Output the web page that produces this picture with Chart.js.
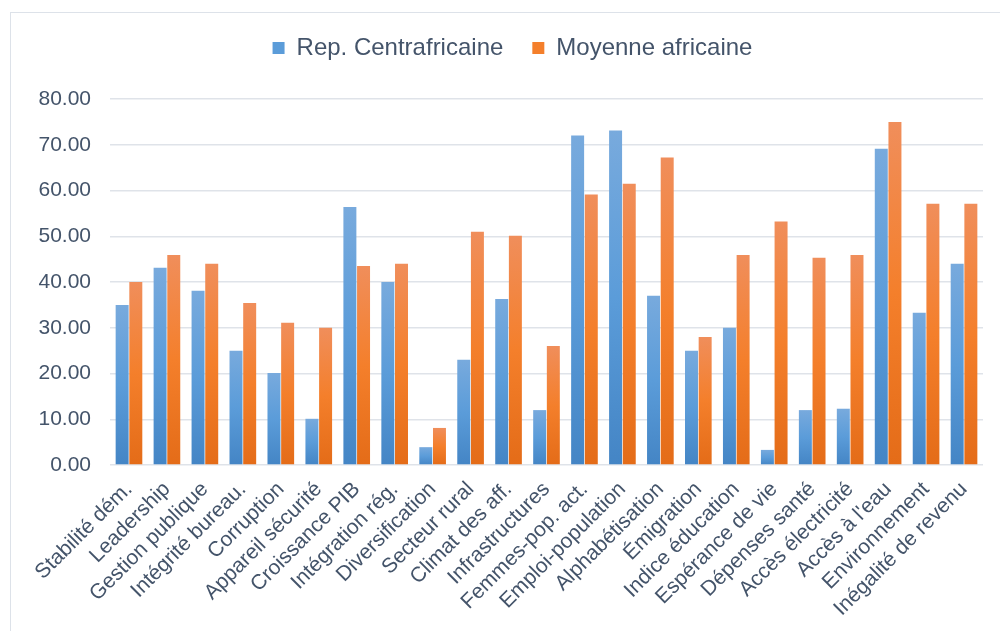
<!DOCTYPE html>
<html>
<head>
<meta charset="utf-8">
<script src="https://cdn.jsdelivr.net/npm/chart.js@4/dist/chart.umd.min.js"></script>
<style>
  html, body { margin: 0; padding: 0; background: #ffffff; overflow: hidden; }
  #wrap { position: relative; width: 1000px; height: 631px; overflow: hidden; }
  #frame { position: absolute; left: 10px; top: 12px; width: 990px; height: 640px;
           border-left: 1.5px solid #dde2e9; border-top: 1.5px solid #dde2e9; pointer-events: none; }
  canvas { position: absolute; left: 0; top: 0; }
</style>
</head>
<body>
<div id="wrap">
  <div id="frame"></div>
  <canvas id="c" width="1000" height="631"></canvas>
</div>
<script>
const categories = [
  "Stabilité dém.", "Leadership", "Gestion publique", "Intégrité bureau.", "Corruption",
  "Appareil sécurité", "Croissance PIB", "Intégration rég.", "Diversification", "Secteur rural",
  "Climat des aff.", "Infrastructures", "Femmes-pop. act.", "Emploi-population", "Alphabétisation",
  "Émigration", "Indice éducation", "Espérance de vie", "Dépenses santé", "Accès électricité",
  "Accès à l'eau", "Environnement", "Inégalité de revenu"
];
const seriesNames = ["Rep. Centrafricaine", "Moyenne africaine"];
const rcaValues = [35.0, 43.1, 38.1, 25.0, 20.1, 10.1, 56.4, 40.0, 3.9, 23.0, 36.3, 12.0, 72.0, 73.1, 37.0, 25.0, 30.0, 3.3, 12.0, 12.3, 69.1, 33.3, 44.0];
const afrValues = [40.0, 45.9, 44.0, 35.4, 31.1, 30.0, 43.5, 44.0, 8.1, 51.0, 50.1, 26.0, 59.1, 61.5, 67.2, 28.0, 45.9, 53.2, 45.3, 45.9, 75.0, 57.1, 57.1];
const yTicks = [0, 10, 20, 30, 40, 50, 60, 70, 80];

const blueStops = ["#78aadd", "#5b9cd9", "#4485c5"];
const orangeStops = ["#f08e5b", "#f47f2b", "#e46c18"];
const textColor = "#44546a";
const gridColor = "#dfe3e9";
const FONT = "'Liberation Sans', Arial, sans-serif";

function gradientFill(stops) {
  return function (ctx) {
    const chart = ctx.chart;
    const ys = chart.scales && chart.scales.y;
    if (!ys || ctx.type !== 'data' || ctx.raw == null) return stops[1];
    const top = ys.getPixelForValue(ctx.raw);
    const bot = ys.getPixelForValue(0);
    if (!isFinite(top) || !isFinite(bot) || Math.abs(bot - top) < 0.5) return stops[1];
    const g = chart.ctx.createLinearGradient(0, top, 0, bot);
    g.addColorStop(0, stops[0]);
    g.addColorStop(0.5, stops[1]);
    g.addColorStop(1, stops[2]);
    return g;
  };
}

const legendTweak = {
  id: 'legendTweak',
  beforeInit(chart) {
    const lg = chart.legend;
    if (!lg) return;
    const orig = lg.fit;
    lg.fit = function () { orig.call(this); this.height += 36; };
  },
  afterLayout(chart) {
    const lg = chart.legend;
    if (!lg) return;
    lg.left += 21; lg.right += 21;
    lg.top += 7; lg.bottom += 7;
  }
};

new Chart(document.getElementById('c'), {
  type: 'bar',
  data: {
    labels: categories,
    datasets: [
      { label: seriesNames[0], data: rcaValues, backgroundColor: gradientFill(blueStops), borderWidth: 0,
        categoryPercentage: 0.72, barPercentage: 0.95 },
      { label: seriesNames[1], data: afrValues, backgroundColor: gradientFill(orangeStops), borderWidth: 0,
        categoryPercentage: 0.72, barPercentage: 0.95 }
    ]
  },
  options: {
    responsive: false,
    animation: false,
    devicePixelRatio: 1,
    layout: { padding: { left: 0, right: 17, top: 0, bottom: 0 } },
    plugins: {
      tooltip: { enabled: false },
      legend: {
        position: 'top',
        align: 'center',
        labels: {
          boxWidth: 12, boxHeight: 12, padding: 29,
          color: textColor,
          font: { family: FONT, size: 24 },
          generateLabels(chart) {
            return [
              { text: seriesNames[0], fillStyle: blueStops[1], strokeStyle: blueStops[1], lineWidth: 0, datasetIndex: 0, fontColor: textColor },
              { text: seriesNames[1], fillStyle: orangeStops[1], strokeStyle: orangeStops[1], lineWidth: 0, datasetIndex: 1, fontColor: textColor }
            ];
          }
        }
      }
    },
    scales: {
      x: {
        grid: { display: false },
        border: { display: false },
        ticks: {
          autoSkip: false, minRotation: 45, maxRotation: 45, padding: 4,
          color: textColor, font: { family: FONT, size: 21 }
        },
        afterFit(s) { s.height = 166; }
      },
      y: {
        min: 0, max: 80,
        afterBuildTicks(s) { s.ticks = yTicks.map(v => ({ value: v })); },
        grid: { color: gridColor, lineWidth: 1.5, drawTicks: false },
        border: { display: false },
        ticks: {
          padding: 19,
          color: textColor, font: { family: FONT, size: 21 },
          callback: v => Number(v).toFixed(2)
        },
        afterFit(s) { s.width = 110; }
      }
    }
  },
  plugins: [legendTweak]
});
</script>
</body>
</html>
